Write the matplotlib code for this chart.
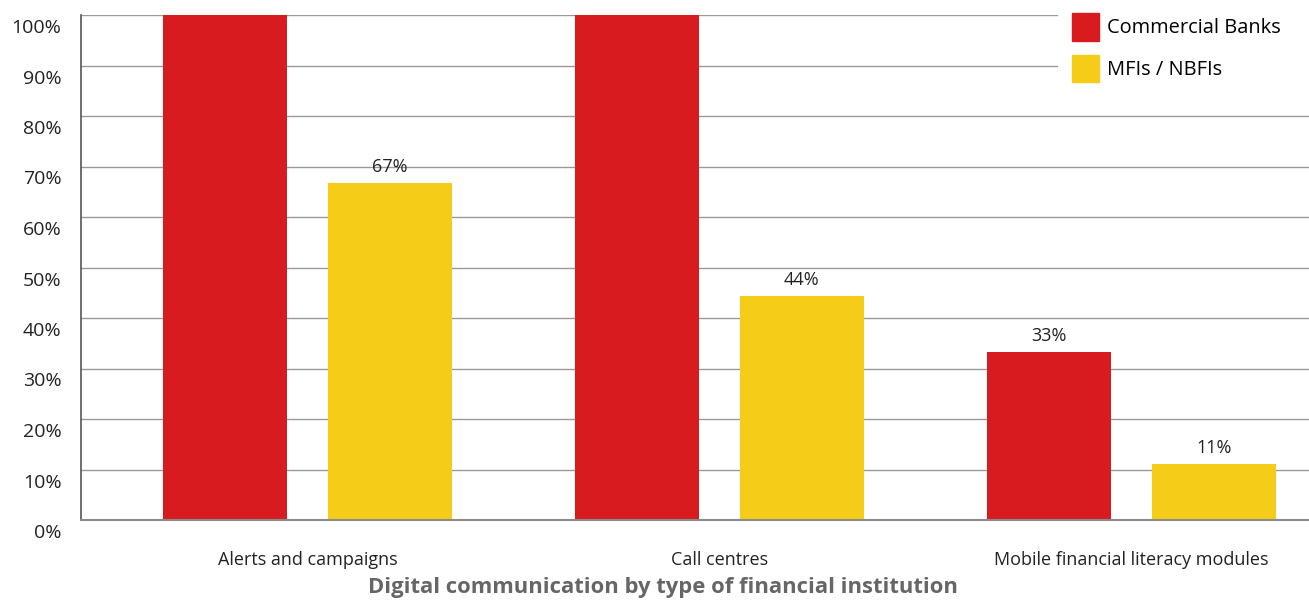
import matplotlib
matplotlib.use("Agg")
import matplotlib.pyplot as plt
import matplotlib.transforms as mtransforms
from matplotlib.patches import Patch, Rectangle
import numpy as np

categories = ["Alerts and campaigns", "Call centres", "Mobile financial literacy modules"]
series_names = ["Commercial Banks", "MFIs / NBFIs"]
commercial_banks = [100, 100, 33.3]
mfis_nbfis = [66.7, 44.4, 11.1]
yticks = [0, 10, 20, 30, 40, 50, 60, 70, 80, 90, 100]
title = "Digital communication by type of financial institution"

RED = "#D71B1E"
YELLOW = "#F5CC17"

plt.rcParams['font.family'] = ['Open Sans', 'DejaVu Sans']

W, H = 1309, 601
fig = plt.figure(figsize=(13.09, 6.01), dpi=100)
ax = fig.add_axes([81/W, 1-520/H, 1-81/W, (520-15)/H])

x = np.arange(len(categories))
w = 0.301
b1 = ax.bar(x - 0.2, commercial_banks, w, color=RED, zorder=3)
b2 = ax.bar(x + 0.2, mfis_nbfis, w, color=YELLOW, zorder=3)

for bars, vals in ((b1, commercial_banks), (b2, mfis_nbfis)):
    for rect, v in zip(bars, vals):
        if v < 100:
            ax.annotate(f"{round(v)}%", (rect.get_x() + rect.get_width()/2, v),
                        xytext=(0, 5), textcoords="offset points",
                        ha="center", va="bottom", fontsize=13, color="#222222")

ax.set_xlim(-0.55, 2.431)
ax.set_ylim(0, 100)
ax.set_yticks(yticks)
ax.set_yticklabels([f"{t}%" for t in yticks], fontsize=14, color="#222222")
ax.set_xticks(x)
ax.set_xticklabels(categories, fontsize=13, color="#222222")
ax.tick_params(axis='y', length=0, pad=14)
ax.tick_params(axis='x', length=0, pad=22)

off = mtransforms.ScaledTranslation(0, -11/100, fig.dpi_scale_trans)
for lab in ax.get_yticklabels():
    lab.set_transform(lab.get_transform() + off)

ax.yaxis.grid(True, color="#999999", linewidth=1.0, zorder=0)
ax.set_axisbelow(True)
for s in ("top", "right"):
    ax.spines[s].set_visible(False)
ax.spines["left"].set_color("#555555")
ax.spines["left"].set_linewidth(1.2)
ax.spines["bottom"].set_color("#8a8a8a")
ax.spines["bottom"].set_linewidth(1.5)
ax.spines["bottom"].set_zorder(4)

# white backdrop behind legend (covers gridlines in that corner)
ax.add_patch(Rectangle((1058/W, 1-95/H), 1-1058/W, 95/H, transform=fig.transFigure,
                       facecolor="white", edgecolor="none", zorder=2.5, clip_on=False))

handles = [Patch(color=RED), Patch(color=YELLOW)]
leg = ax.legend(handles, series_names, loc="upper left",
                bbox_to_anchor=((1072-81)/1228, 1 + 2/505),
                frameon=False, fontsize=14.4, handlelength=1.35, handleheight=1.75,
                handletextpad=0.4, labelspacing=0.7, borderpad=0.0,
                borderaxespad=0.0)
leg.set_zorder(5)

fig.text(663/W, 1-588/H, title, ha="center", va="center", fontsize=15.8,
         fontweight="bold", color="#666666")

fig.savefig("out.png", dpi=100)
